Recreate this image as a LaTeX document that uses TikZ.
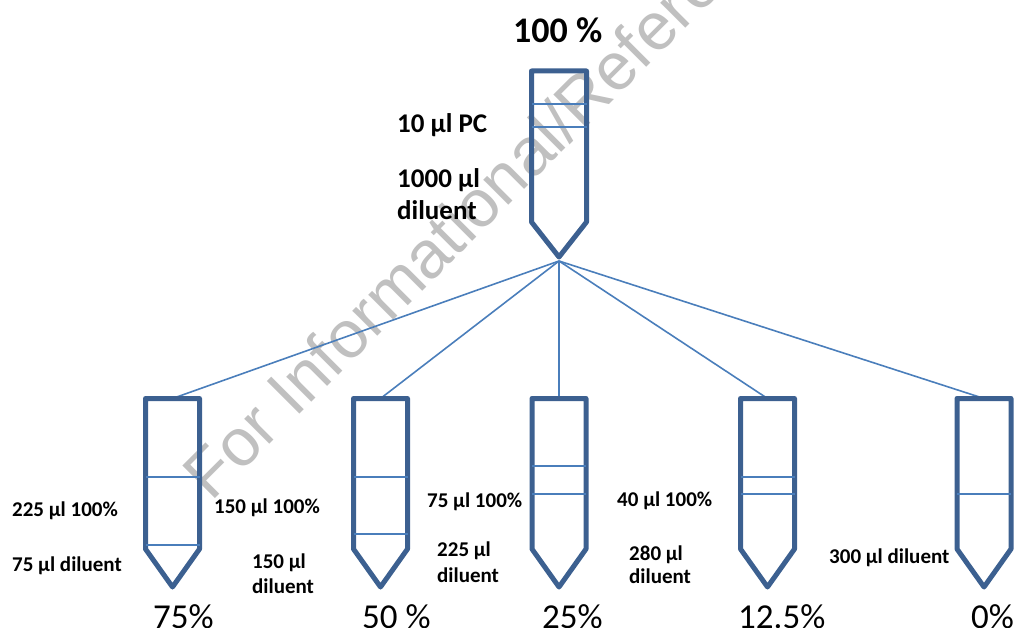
\documentclass[tikz,border=0pt]{standalone}
\usepackage{fontspec}
\setmainfont{Carlito}
\newfontfamily\wmfont{Liberation Sans}
\definecolor{tubec}{HTML}{3C6090}
\definecolor{linec}{HTML}{4A7EBB}
\definecolor{wmc}{HTML}{C0C0C0}
\tikzset{
  tube/.style={draw=tubec,line width=5pt,line join=round},
  level/.style={draw=linec,line width=1.6pt},
  conn/.style={draw=linec,line width=1.6pt},
  lab/.style={anchor=base west,inner sep=0pt,font=\bfseries\fontsize{21pt}{25pt}\selectfont},
  toplab/.style={anchor=base west,inner sep=0pt,font=\bfseries\fontsize{27pt}{32pt}\selectfont},
  pct/.style={anchor=base west,inner sep=0pt,font=\fontsize{35pt}{40pt}\selectfont},
  wm/.style={anchor=base west,inner sep=0pt,text=wmc,font=\wmfont\fontsize{67pt}{72pt}\selectfont,rotate=45}
}
\begin{document}
\begin{tikzpicture}[x=1pt,y=-1pt]
\useasboundingbox (0,0) rectangle (1016,628);
\clip (0,0) rectangle (1016,628);
\node[wm] (wmark) at (211,503) {For Informational/Reference};
% hub and tube tops
\coordinate (hub) at (559,261);
\coordinate (t1) at (172.5,398.5);
\coordinate (t2) at (380.5,398.5);
\coordinate (t3) at (559,398.5);
\coordinate (t4) at (767.5,398.5);
\coordinate (t5) at (984,398.5);
\foreach \n in {1,...,5} \draw[conn] (hub) -- (t\n);
% top tube
\draw[tube] (531.5,71) -- (531.5,222) -- (559,257) -- (586.5,222) -- (586.5,71) -- cycle;
\draw[level] (531.5,104) -- (586.5,104);
\draw[level] (531.5,127) -- (586.5,127);
% bottom tubes
\foreach \cx in {172.5,380.5,559,767.5,984}{
  \draw[tube] (\cx-27,398.5) -- (\cx-27,549) -- (\cx,587) -- (\cx+27,549) -- (\cx+27,398.5) -- cycle;
}
\draw[level] (145.5,477) -- (199.5,477);
\draw[level] (145.5,545) -- (199.5,545);
\draw[level] (353.5,477) -- (407.5,477);
\draw[level] (353.5,534) -- (407.5,534);
\draw[level] (532,466) -- (586,466);
\draw[level] (532,494) -- (586,494);
\draw[level] (740.5,477) -- (794.5,477);
\draw[level] (740.5,494) -- (794.5,494);
\draw[level] (957,494) -- (1011,494);
% labels
\node[toplab] (h100) at (513,43) {\fontsize{36pt}{40pt}\selectfont 100 \%};
\node[toplab] (pc) at (397,133) {10 µl PC};
\node[toplab] (dil0a) at (397,188) {1000 µl};
\node[toplab] (dil0b) at (397,220) {diluent};
\node[lab] (a1) at (12,516) {225 µl 100\%};
\node[lab] (b1) at (12,571) {75 µl diluent};
\node[lab] (a2) at (214,513) {150 µl 100\%};
\node[lab] (b2a) at (252,568) {150 µl};
\node[lab] (b2b) at (252,593) {diluent};
\node[lab] (a3) at (427,507) {75 µl 100\%};
\node[lab] (b3a) at (437,556) {225 µl};
\node[lab] (b3b) at (437,582) {diluent};
\node[lab] (a4) at (617,506) {40 µl 100\%};
\node[lab] (b4a) at (629,560) {280 µl};
\node[lab] (b4b) at (629,583) {diluent};
\node[lab] (b5) at (829,563) {300 µl diluent};
\node[pct] (p1) at (153,628) {75\%};
\node[pct] (p2) at (362,628) {50 \%};
\node[pct] (p3) at (542,628) {25\%};
\node[pct] (p4) at (738,628) {12.5\%};
\node[pct] (p5) at (971,628) {0\%};
\end{tikzpicture}
\end{document}
